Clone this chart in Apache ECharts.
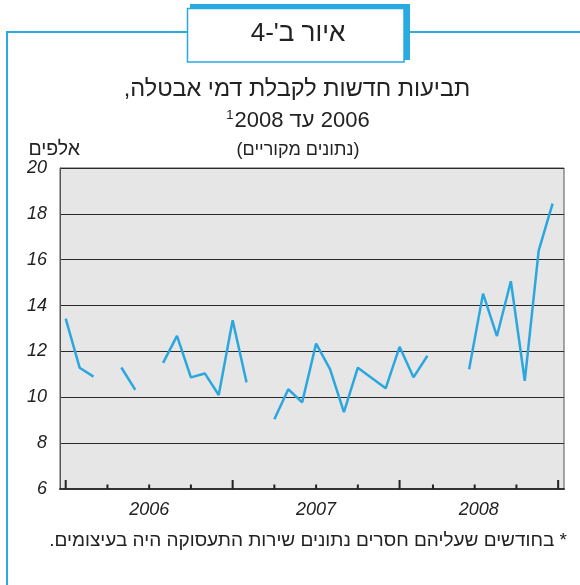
<!DOCTYPE html>
<html lang="he">
<head>
<meta charset="utf-8">
<script src="https://cdn.jsdelivr.net/npm/echarts@6/dist/echarts.min.js"></script>
<style>
  html, body { margin: 0; padding: 0; background: #fff; }
  #chart { width: 580px; height: 585px; }
</style>
</head>
<body>
<div id="chart" dir="rtl"></div>
<script>
// monthly new claims for unemployment benefit, thousands (null = strike months)
const months = [
    "2006-01", "2006-02", "2006-03", "2006-04", "2006-05", "2006-06",
    "2006-07", "2006-08", "2006-09", "2006-10", "2006-11", "2006-12",
    "2007-01", "2007-02", "2007-03", "2007-04", "2007-05", "2007-06",
    "2007-07", "2007-08", "2007-09", "2007-10", "2007-11", "2007-12",
    "2008-01", "2008-02", "2008-03", "2008-04", "2008-05", "2008-06",
    "2008-07", "2008-08", "2008-09", "2008-10", "2008-11", "2008-12",
];
const claims = [
    13.43, 11.29, 10.9, null, 11.3, 10.32,
    null, 11.5, 12.68, 10.87, 11.04, 10.1,
    13.36, 10.65, null, 9.04, 10.35, 9.78,
    12.34, 11.23, 9.35, 11.29, 10.84, 10.39,
    12.2, 10.87, 11.81, null, null, 11.22,
    14.52, 12.67, 15.06, 10.72, 16.4, 18.45,
];

// x axis decorations, in month-index units
const tickPositions = [0, 3, 6, 9, 12, 15, 18, 21, 24, 26.4, 29.4, 32.4, 35.4];
const majorTicks = [0, 12, 24, 35.4];
const years = ["2006", "2007", "2008"];
const yearPositions = [6, 18, 29.7];

const BLUE = "#29abe2";
const FONT = "'Liberation Sans', 'DejaVu Sans', sans-serif";

const chart = echarts.init(document.getElementById("chart"));

const option = {
    backgroundColor: "#fff",
    animation: false,
    grid: {
        left: 60,
        right: 16,
        top: 168,
        bottom: 96,
        show: true,
        backgroundColor: "#e6e6e6",
        borderColor: "#555",
        borderWidth: 1,
    },
    xAxis: {
        type: "value",
        min: -0.41,
        max: 35.82,
        axisLine: { show: true, onZero: false, lineStyle: { color: "#333", width: 2 } },
        axisTick: { show: false },
        axisLabel: { show: false },
        splitLine: { show: false },
    },
    yAxis: {
        type: "value",
        min: 6,
        max: 20,
        interval: 2,
        axisLine: { show: true, onZero: false, lineStyle: { color: "#555", width: 1 } },
        axisTick: { show: false },
        axisLabel: {
            margin: 13,
            color: "#222",
            fontSize: 18,
            fontStyle: "italic",
            fontFamily: FONT,
        },
        splitLine: { lineStyle: { color: "#2a2a2a", width: 1 } },
    },
    series: [
        {
            name: "claims",
            type: "line",
            data: claims.map((v, i) => [i, v]),
            connectNulls: false,
            showSymbol: false,
            symbol: "none",
            lineStyle: { color: "#2aa7df", width: 2.5 },
            z: 4,
        },
        {
            type: "custom",
            silent: true,
            clip: false,
            data: tickPositions.map((p) => [p, 6, majorTicks.includes(p) ? 1 : 0]),
            renderItem: (params, api) => {
                const pt = api.coord([api.value(0), api.value(1)]);
                const len = api.value(2) ? 9 : 4.5;
                return {
                    type: "line",
                    shape: { x1: pt[0], y1: pt[1], x2: pt[0], y2: pt[1] - len },
                    style: { stroke: "#222", lineWidth: 2 },
                };
            },
            z: 5,
        },
        {
            type: "custom",
            silent: true,
            clip: false,
            data: yearPositions.map((p, i) => [p, 6, years[i]]),
            renderItem: (params, api) => {
                const pt = api.coord([api.value(0), api.value(1)]);
                return {
                    type: "text",
                    style: {
                        text: years[params.dataIndex],
                        x: pt[0],
                        y: pt[1] + 21,
                        align: "center",
                        verticalAlign: "middle",
                        fill: "#222",
                        font: "italic 18px " + FONT,
                    },
                };
            },
            z: 5,
        },
    ],
    graphic: [
        // outer frame
        {
            type: "polyline",
            shape: { points: [[187, 32], [7, 32], [7, 590]] },
            style: { stroke: BLUE, lineWidth: 2, fill: null },
        },
        {
            type: "line",
            shape: { x1: 404, y1: 32, x2: 585, y2: 32 },
            style: { stroke: BLUE, lineWidth: 2 },
        },
        // figure number box
        {
            type: "rect",
            shape: { x: 190, y: 4, width: 220, height: 56 },
            style: { fill: BLUE },
        },
        {
            type: "rect",
            shape: { x: 187.5, y: 8.5, width: 216.5, height: 53.5 },
            style: { fill: "#fff", stroke: BLUE, lineWidth: 1.5 },
        },
        {
            type: "text",
            x: 298, y: 34,
            style: {
                text: "איור ב'-4",
                align: "center", verticalAlign: "middle",
                fill: "#222", font: "26px " + FONT,
            },
        },
        // titles
        {
            type: "text",
            x: 297, y: 90,
            style: {
                text: "תביעות חדשות לקבלת דמי אבטלה,",
                align: "center", verticalAlign: "middle",
                fill: "#222", font: "23.5px " + FONT,
            },
        },
        {
            type: "text",
            x: 298, y: 121,
            style: {
                text: "{s|1}{t|2006 עד 2008}",
                align: "center", verticalAlign: "middle",
                rich: {
                    s: { fontSize: 13, fontFamily: FONT, fill: "#222", verticalAlign: "top", lineHeight: 24, padding: [0, 1, 0, 0] },
                    t: { fontSize: 22, fontFamily: FONT, fill: "#222", lineHeight: 24 },
                },
            },
        },
        {
            type: "text",
            x: 298, y: 150,
            style: {
                text: "(נתונים מקוריים)",
                align: "center", verticalAlign: "middle",
                fill: "#222", font: "18px " + FONT,
            },
        },
        {
            type: "text",
            x: 80, y: 150,
            style: {
                text: "אלפים",
                align: "right", verticalAlign: "middle",
                fill: "#222", font: "19.5px " + FONT,
            },
        },
        // footnote
        {
            type: "text",
            x: 567, y: 541,
            style: {
                text: "* בחודשים שעליהם חסרים נתונים שירות התעסוקה היה בעיצומים.",
                align: "right", verticalAlign: "middle",
                fill: "#222", font: "19px " + FONT,
            },
        },
    ],
};

chart.setOption(option);
</script>
</body>
</html>
